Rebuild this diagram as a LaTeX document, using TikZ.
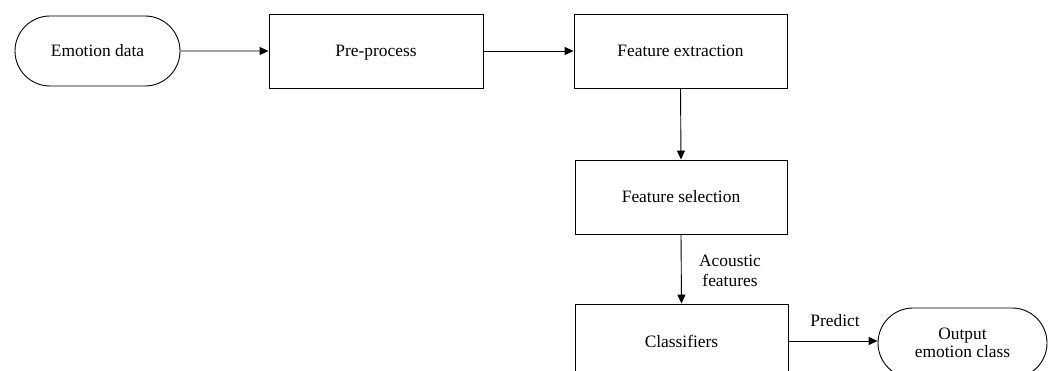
\documentclass[tikz,border=0pt]{standalone}
\usepackage{fontspec}
\setmainfont{Liberation Serif}
\usetikzlibrary{arrows.meta,shapes.misc}
\begin{document}
\begin{tikzpicture}[x=1pt,y=-1pt,
  every node/.style={font=\fontsize{17.4}{20}\selectfont},
  one/.style={text height=14pt,text depth=2pt},
  box/.style={draw=black,line width=0.9pt,rectangle,minimum width=213pt,minimum height=74pt,inner sep=0pt,one},
  term/.style={draw=black,line width=0.9pt,rounded rectangle,minimum width=#1,minimum height=70pt,inner sep=0pt,align=center},
  arr/.style={draw=black,line width=0.9pt,-{Triangle[length=9pt,width=8pt]}},
  lbl/.style={align=center,inner sep=0pt}]
\clip (0,0) rectangle (1051,371);
\node[term=165pt,one] (ed) at (97.5,51) {Emotion data};
\node[box,minimum width=214pt] (pp) at (376,51) {Pre-process};
\node[box] (fe) at (680.5,51) {Feature extraction};
\node[box,minimum width=212pt] (fs) at (681,197) {Feature selection};
\node[box] (cl) at (681.5,341) {Classifiers};
\node[term=169pt] (out) at (962.5,343) {Output\\[-2pt]emotion class};
\draw[arr] (ed) -- (pp);
\draw[arr] (pp) -- (fe);
\draw[arr] (fe.south) -- (fs.north);
\draw[arr] (fs.south) -- (cl.north);
\draw[arr] (cl.east) -- (cl.east -| out.west);
\node[lbl] (af) at (730,271) {Acoustic\\features};
\node[lbl] (pr) at (835,321) {Predict};
\end{tikzpicture}
\end{document}
